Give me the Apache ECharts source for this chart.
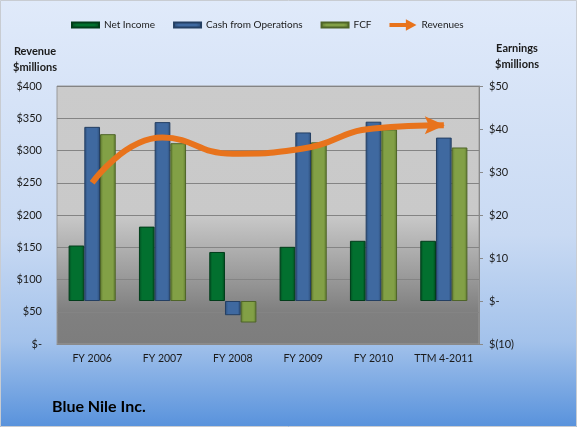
<!DOCTYPE html>
<html>
<head>
<meta charset="utf-8">
<script src="https://cdn.jsdelivr.net/npm/echarts@6/dist/echarts.min.js"></script>
<style>html,body{margin:0;padding:0;}#c{width:577px;height:427px;}</style>
</head>
<body>
<div id="c"></div>
<script>
var categories = ['FY 2006', 'FY 2007', 'FY 2008', 'FY 2009', 'FY 2010', 'TTM 4-2011'];
var netIncome = [12.9, 17.3, 11.4, 12.6, 14.0, 14.0];
var cashFromOps = [40.5, 41.6, -3.3, 39.2, 41.7, 38.0];
var fcf = [38.8, 36.7, -5.0, 36.9, 39.9, 35.7];
var revenues = [250, 320, 295, 303, 334, 339];
var title = 'Blue Nile Inc.';

var FONT = 'Lato, "Liberation Sans", sans-serif';
var chart = echarts.init(document.getElementById('c'));

function barGrad(c1, c2) {
  return new echarts.graphic.LinearGradient(0, 0, 1, 0, [
    {offset: 0, color: c2}, {offset: 0.2, color: c1}, {offset: 0.8, color: c1}, {offset: 1, color: c2}
  ]);
}
var barIcon = 'path://M0,0 M27,12 M0,3.5 L27,3.5 L27,8.5 L0,8.5 Z';
var arrowIcon = 'path://M0,4 L17,4 L17,0 L28,6 L17,12 L17,8 L0,8 Z';
var arrowHead = 'path://M0,0 L20,9 L0,18 L4,9 Z';

chart.setOption({
  backgroundColor: new echarts.graphic.LinearGradient(0, 0, 0, 1, [
    {offset: 0, color: '#e0eafa'},
    {offset: 0.55, color: '#c9daf3'},
    {offset: 0.8, color: '#a3c2eb'},
    {offset: 1, color: '#5892dc'}
  ]),
  animation: false,
  textStyle: {fontFamily: FONT},
  legend: {
    left: 66, top: 13,
    itemWidth: 27, itemHeight: 12, itemGap: 18,
    textStyle: {fontSize: 10, color: '#1a1a1a', fontFamily: FONT},
    data: [
      {name: 'Net Income', icon: barIcon},
      {name: 'Cash from Operations', icon: barIcon},
      {name: 'FCF', icon: barIcon},
      {name: 'Revenues', icon: arrowIcon, itemStyle: {color: '#e8731c', borderWidth: 0}}
    ]
  },
  grid: {
    left: 57, right: 98, top: 86, bottom: 83,
    show: true, borderWidth: 1, borderColor: '#9a9a9a',
    backgroundColor: new echarts.graphic.LinearGradient(0, 0, 0, 1, [
      {offset: 0, color: '#cbcbcb'},
      {offset: 0.5, color: '#c9c9c9'},
      {offset: 0.87, color: '#808080'},
      {offset: 1, color: '#7d7d7d'}
    ])
  },
  xAxis: {
    type: 'category', data: categories,
    axisLine: {lineStyle: {color: '#8a8a8a'}},
    axisTick: {show: true, length: 0, lineStyle: {color: '#8a8a8a'}},
    axisLabel: {fontSize: 10.5, color: '#1a1a1a', margin: 9, interval: 0, fontFamily: FONT}
  },
  yAxis: [
    {
      type: 'value', min: 0, max: 400, interval: 50,
      axisLine: {show: false}, axisTick: {show: false},
      splitLine: {lineStyle: {color: '#848484', width: 1}},
      axisLabel: {fontSize: 11, color: '#1a1a1a', margin: 15, fontFamily: FONT,
        formatter: function (v) { return v === 0 ? '$-' : '$' + v; }}
    },
    {
      type: 'value', min: -10, max: 50, interval: 10,
      axisLine: {show: true, lineStyle: {color: '#8a8a8a'}},
      axisTick: {show: true, length: 4, lineStyle: {color: '#8a8a8a'}},
      splitLine: {show: false},
      axisLabel: {fontSize: 11, color: '#1a1a1a', margin: 10, fontFamily: FONT,
        formatter: function (v) { return v === 0 ? '$-' : (v < 0 ? '$(' + (-v) + ')' : '$' + v); }}
    }
  ],
  graphic: [
    {type: 'rect', shape: {x: 0.5, y: 0.5, width: 576, height: 426}, style: {fill: 'none', stroke: '#c8ccd2', lineWidth: 1}, silent: true},
    {type: 'text', x: 35, y: 43, style: {text: 'Revenue\n$millions', font: 'bold 11px ' + FONT, fill: '#1a1a1a', lineHeight: 16, align: 'center'}},
    {type: 'text', x: 517, y: 40, style: {text: 'Earnings\n$millions', font: 'bold 11px ' + FONT, fill: '#1a1a1a', lineHeight: 16, align: 'center'}},
    {type: 'text', x: 52, y: 399, style: {text: title, font: 'bold 16px ' + FONT, fill: '#000000'}}
  ],
  series: [
    {
      name: 'Net Income', type: 'bar', yAxisIndex: 1, data: netIncome,
      barGap: '0%', barCategoryGap: '33%',
      itemStyle: {color: barGrad('#02702f', '#024d21'), borderColor: '#013d1a', borderWidth: 1}
    },
    {
      name: 'Cash from Operations', type: 'bar', yAxisIndex: 1, data: cashFromOps,
      barGap: '0%', barCategoryGap: '33%',
      itemStyle: {color: barGrad('#3f69a0', '#2c4d78'), borderColor: '#243f63', borderWidth: 1}
    },
    {
      name: 'FCF', type: 'bar', yAxisIndex: 1, data: fcf,
      barGap: '0%', barCategoryGap: '33%',
      itemStyle: {color: barGrad('#82a046', '#5f7a30'), borderColor: '#4f6528', borderWidth: 1}
    },
    {
      name: 'Revenues', type: 'line', yAxisIndex: 0, data: revenues,
      smooth: 0.5, z: 5,
      lineStyle: {color: '#e8731c', width: 6},
      itemStyle: {color: '#e8731c'},
      showSymbol: true,
      symbol: function (v, p) { return p.dataIndex === revenues.length - 1 ? arrowHead : 'none'; },
      symbolSize: [20, 18], symbolOffset: [-9, 0],
      emphasis: {disabled: true}
    }
  ]
});
</script>
</body>
</html>
